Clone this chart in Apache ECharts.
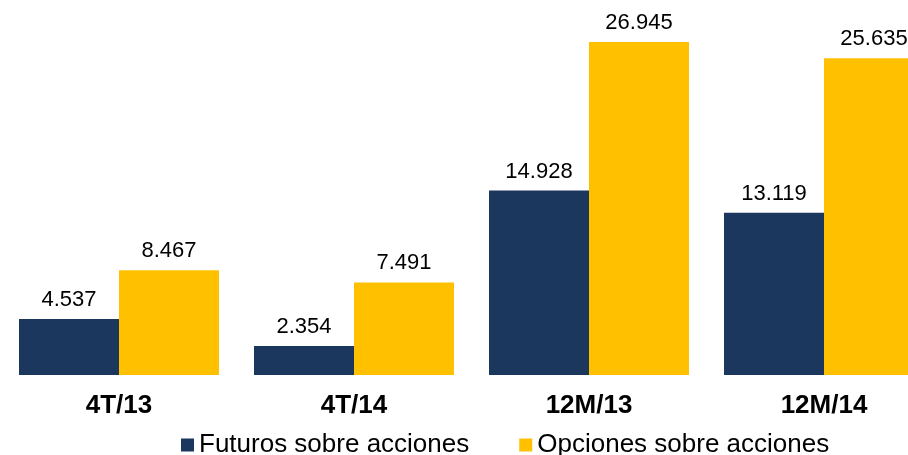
<!DOCTYPE html>
<html>
<head>
<meta charset="utf-8">
<script src="https://cdn.jsdelivr.net/npm/echarts@6/dist/echarts.min.js"></script>
<style>html,body{margin:0;padding:0;background:#fff}#c{width:908px;height:455px}</style>
</head>
<body>
<div id="c"></div>
<script>
const categories = ['4T/13', '4T/14', '12M/13', '12M/14'];
const futuros = [4537, 2354, 14928, 13119];
const opciones = [8467, 7491, 26945, 25635];
const seriesNames = ['Futuros sobre acciones', 'Opciones sobre acciones'];

function fmt(v) {
  return String(v).replace(/\B(?=(\d{3})+(?!\d))/g, '.');
}

const chart = echarts.init(document.getElementById('c'));
const labelCfg = {
  show: true,
  position: 'top',
  distance: 8,
  fontFamily: 'Liberation Sans, Arial, sans-serif',
  fontSize: 22,
  color: '#000',
  formatter: p => fmt(p.value)
};
chart.setOption({
  animation: false,
  backgroundColor: '#fff',
  grid: { left: 1.5, right: -33.5, top: 4.2, bottom: 80, containLabel: false, outerBoundsMode: 'none' },
  legend: {
    left: 176, top: 427,
    itemWidth: 13, itemHeight: 13, itemGap: 50,
    icon: 'rect',
    textStyle: { fontFamily: 'Liberation Sans, Arial, sans-serif', fontSize: 26, color: '#000', padding: [0, 0, 0, 0] },
    data: seriesNames
  },
  xAxis: {
    type: 'category',
    data: categories,
    axisLine: { show: false },
    axisTick: { show: false },
    axisLabel: {
      margin: 18,
      fontFamily: 'Liberation Sans, Arial, sans-serif',
      fontSize: 26, fontWeight: 'bold', color: '#000'
    }
  },
  yAxis: {
    type: 'value', min: 0, max: 30000,
    show: false,
    splitLine: { show: false }
  },
  series: [
    {
      name: seriesNames[0], type: 'bar', data: futuros,
      barWidth: 100, barGap: '0%',
      itemStyle: { color: '#1B375E' },
      label: labelCfg
    },
    {
      name: seriesNames[1], type: 'bar', data: opciones,
      barWidth: 100, barGap: '0%',
      itemStyle: { color: '#FFC000' },
      label: labelCfg
    }
  ]
});
</script>
</body>
</html>
